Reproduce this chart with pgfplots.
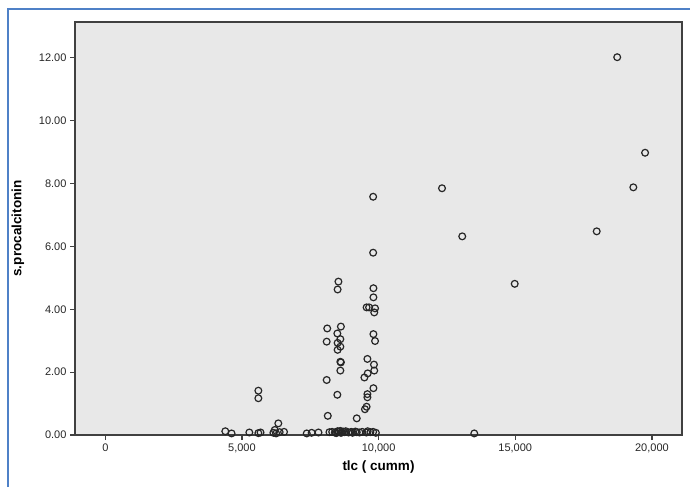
\documentclass[border=0pt]{standalone}
\usepackage{fontspec}
\setmainfont{Liberation Sans}
\usepackage{pgfplots}
\pgfplotsset{compat=1.18}
\definecolor{bgc}{RGB}{232,232,232}
\definecolor{framec}{RGB}{79,129,199}
\definecolor{axc}{RGB}{64,64,64}
\begin{document}
\begin{tikzpicture}[x=1pt,y=1pt]
\useasboundingbox (0,0) rectangle (690,487);
\draw[framec, line width=1.5pt] (8,0) -- (8,478) -- (690,478);
\begin{axis}[at={(75pt,52pt)}, anchor=south west, scale only axis,
  width=607pt, height=413pt,
  xmin=-1109, xmax=21101, ymin=0, ymax=13.14,
  axis background/.style={fill=bgc},
  axis line style={axc, line width=1.2pt},
  tick pos=left, tick align=outside,
  major tick length=5pt,
  every tick/.style={axc, line width=1.2pt},
  xtick={0,5000,10000,15000,20000},
  ytick={0,2,4,6,8,10,12},
  scaled ticks=false,
  /pgf/number format/assume math mode=true,
  xticklabel style={/pgf/number format/.cd, fixed, 1000 sep={,}},
  yticklabel style={/pgf/number format/.cd, fixed, fixed zerofill, precision=2},
  ticklabel style={font=\fontsize{11}{13}\selectfont, text=black!85},
  xlabel={tlc ( cumm)}, ylabel={s.procalcitonin},
  xlabel style={at={(axis description cs:0.5,-0.0775)}, anchor=center, font=\fontsize{13.5}{15}\selectfont\bfseries},
  ylabel style={at={(axis description cs:-0.094,0.5)}, anchor=center, rotate=0, font=\fontsize{13.5}{15}\selectfont\bfseries},
  clip=false,
]
\addplot[only marks, mark=o, mark size=3.4pt, mark options={black!85, line width=1.2pt}]
coordinates {
(18730,12.02) (19750,8.98) (19320,7.88) (12320,7.85) (17980,6.48) (13060,6.32) (14980,4.81) (13500,0.05)
(9800,7.58) (9800,5.80) (9810,4.67) (9810,4.38) (9560,4.06) (9650,4.06) (9870,4.03) (9840,3.90)
(9810,3.21) (9870,2.99) (9590,2.42) (9830,2.24) (9840,2.05) (9600,1.96) (9480,1.83) (9810,1.49)
(9590,1.30) (9590,1.20) (9560,0.90) (9500,0.82) (9200,0.53)
(8530,4.88) (8500,4.63) (8120,3.39) (8620,3.45) (8490,3.23) (8600,3.05) (8500,2.93) (8100,2.97)
(8600,2.81) (8500,2.71) (8600,2.33) (8620,2.31) (8600,2.05) (8100,1.75) (8490,1.28) (8140,0.61)
(5600,1.41) (5600,1.17) (6330,0.37)
(4390,0.12) (4620,0.05) (5270,0.08) (5600,0.06) (5680,0.08) (6150,0.07) (6200,0.16) (6250,0.05)
(6380,0.09) (6540,0.10) (7370,0.05) (7550,0.07) (7800,0.08) (8200,0.09) (8300,0.10) (8400,0.08)
(8500,0.12) (8550,0.10) (8600,0.13) (8650,0.08) (8700,0.11) (8750,0.09) (8800,0.12) (8900,0.08)
(9000,0.10) (9050,0.07) (9150,0.11) (9200,0.09) (9300,0.08) (9400,0.10) (9550,0.08) (9600,0.12)
(9700,0.09) (9800,0.10) (9900,0.07) (8450,0.06) (8620,0.07)
};
\end{axis}
\end{tikzpicture}
\end{document}
